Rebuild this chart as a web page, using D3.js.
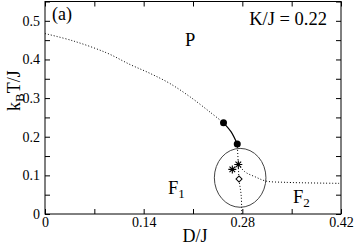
<!DOCTYPE html>
<html><head><meta charset="utf-8">
<script src="https://cdn.jsdelivr.net/npm/d3@7"></script>
<style>
html,body{margin:0;padding:0;background:#fff;}
svg{display:block;}
text{font-family:"Liberation Serif","Times New Roman",serif;fill:#000;}
</style></head>
<body>
<svg id="c" width="354" height="245"></svg>
<script>
// Data (D/J, kB T/J)
const mainDottedD = [0, 0.040, 0.0875, 0.1206, 0.149, 0.177, 0.206, 0.234, 0.2533];
const mainDottedT = [0.467, 0.448, 0.417, 0.387, 0.364, 0.338, 0.303, 0.264, 0.236];
const solidD = [0.2533, 0.2639, 0.2728];
const solidT = [0.236, 0.213, 0.181];
const filledD = [0.2533, 0.2728];
const filledT = [0.236, 0.181];
const vertDottedD = [0.2728, 0.2743, 0.2753, 0.2785, 0.279];
const vertDottedT = [0.181, 0.128, 0.0904, 0.045, 0];
const rightDottedD = [0.2743, 0.2838, 0.298, 0.3136, 0.3405, 0.42];
const rightDottedT = [0.128, 0.109, 0.0964, 0.0853, 0.082, 0.0793];
const starD = [0.2743, 0.2658];
const starT = [0.128, 0.1155];
const diamondD = [0.2753];
const diamondT = [0.0904];
const ellipseCenter = [0.2769, 0.0936];
const ellipseRadii = [0.0366, 0.0762];
const xTicks = [0, 0.07, 0.14, 0.21, 0.28, 0.35, 0.42];
const xLabels = ["0", "", "0.14", "", "0.28", "", "0.42"];
const yTicks = [0, 0.05, 0.1, 0.15, 0.2, 0.25, 0.3, 0.35, 0.4, 0.45, 0.5, 0.55];
const yLabels = ["0", "", "0.1", "", "0.2", "", "0.3", "", "0.4", "", "0.5", ""];

const svg = d3.select("#c");
const L = 45, R = 341, T = 1.5, B = 214;
const x = d3.scaleLinear().domain([0, 0.42]).range([L, R]);
const y = d3.scaleLinear().domain([0, 0.55]).range([B, T]);

function axis(g, gen) {
  g.call(gen);
  g.select(".domain").remove();
  g.selectAll(".tick line").attr("stroke", "#000").attr("stroke-width", 1);
  g.selectAll("text").style("font-size", "14px").attr("fill", "#000");
}
svg.append("g").attr("transform", `translate(0,${B})`)
  .call(g => axis(g, d3.axisBottom(x).tickValues(xTicks).tickSizeInner(-5).tickSizeOuter(0).tickPadding(3)
    .tickFormat((d, i) => xLabels[i])));
svg.append("g").attr("transform", `translate(0,${T})`)
  .call(g => axis(g, d3.axisTop(x).tickValues(xTicks).tickSizeInner(-5).tickSizeOuter(0).tickFormat("")));
svg.append("g").attr("transform", `translate(${L},0)`)
  .call(g => axis(g, d3.axisLeft(y).tickValues(yTicks).tickSizeInner(-5).tickSizeOuter(0).tickPadding(5)
    .tickFormat((d, i) => yLabels[i])));
svg.append("g").attr("transform", `translate(${R},0)`)
  .call(g => axis(g, d3.axisRight(y).tickValues(yTicks).tickSizeInner(-5).tickSizeOuter(0).tickFormat("")));

svg.append("rect").attr("x", L).attr("y", T).attr("width", R - L).attr("height", B - T)
  .attr("fill", "none").attr("stroke", "#000").attr("stroke-width", 1);

const line = d3.line().x(d => x(d[0])).y(d => y(d[1])).curve(d3.curveCatmullRom.alpha(0.5));
const zip = (a, b) => a.map((v, i) => [v, b[i]]);

const dotted = {stroke: "#000", "stroke-width": 1, "stroke-dasharray": "1,2", fill: "none"};
function addPath(data, style) {
  const p = svg.append("path").attr("d", line(data));
  Object.entries(style).forEach(([k, v]) => p.attr(k, v));
}
addPath(zip(mainDottedD, mainDottedT), dotted);
addPath(zip(vertDottedD, vertDottedT), dotted);
addPath(zip(rightDottedD, rightDottedT), dotted);
addPath(zip(solidD, solidT), {stroke: "#000", "stroke-width": 1.2, fill: "none"});

// ellipse
svg.append("ellipse")
  .attr("cx", x(ellipseCenter[0])).attr("cy", y(ellipseCenter[1]))
  .attr("rx", x(ellipseRadii[0]) - x(0)).attr("ry", y(0) - y(ellipseRadii[1]))
  .attr("fill", "none").attr("stroke", "#444").attr("stroke-width", 1);

svg.selectAll(".fc").data(zip(filledD, filledT)).enter().append("circle")
  .attr("cx", d => x(d[0])).attr("cy", d => y(d[1])).attr("r", 3.5).attr("fill", "#000");

const star = {draw(ctx, size) {
  const r = Math.sqrt(size) / 2;
  for (let k = 0; k < 4; k++) {
    const a = k * Math.PI / 4;
    ctx.moveTo(-r * Math.cos(a), -r * Math.sin(a));
    ctx.lineTo(r * Math.cos(a), r * Math.sin(a));
  }
}};
svg.selectAll(".st").data(zip(starD, starT)).enter().append("path")
  .attr("transform", d => `translate(${x(d[0])},${y(d[1])})`)
  .attr("d", d3.symbol().type(star).size(64))
  .attr("stroke", "#000").attr("stroke-width", 1.1).attr("fill", "none");

svg.selectAll(".dm").data(zip(diamondD, diamondT)).enter().append("path")
  .attr("transform", d => `translate(${x(d[0])},${y(d[1])}) rotate(45)`)
  .attr("d", d3.symbol().type(d3.symbolSquare).size(18))
  .attr("stroke", "#000").attr("stroke-width", 1).attr("fill", "#fff");

// labels
function txt(xp, yp, s, size, anchor) {
  return svg.append("text").attr("x", xp).attr("y", yp).style("font-size", size + "px")
    .attr("text-anchor", anchor || "start").text(s);
}
txt(52, 20, "(a)", 18);
txt(327, 25, "K/J = 0.22", 18.5, "end");
txt(185, 46, "P", 18.5);
const f1 = txt(168, 194, "F", 18.5);
f1.append("tspan").attr("dy", 4).style("font-size", "13px").text("1");
const f2 = txt(293, 203, "F", 18.5);
f2.append("tspan").attr("dy", 4).style("font-size", "13px").text("2");
txt(195, 242, "D/J", 18, "middle");
const yl = svg.append("text").attr("transform", "translate(20,111) rotate(-90)")
  .style("font-size", "18px");
yl.append("tspan").text("k");
yl.append("tspan").attr("dy", 4).style("font-size", "13px").text("B");
yl.append("tspan").attr("dy", -4).text("T/J");
</script>
</body></html>
